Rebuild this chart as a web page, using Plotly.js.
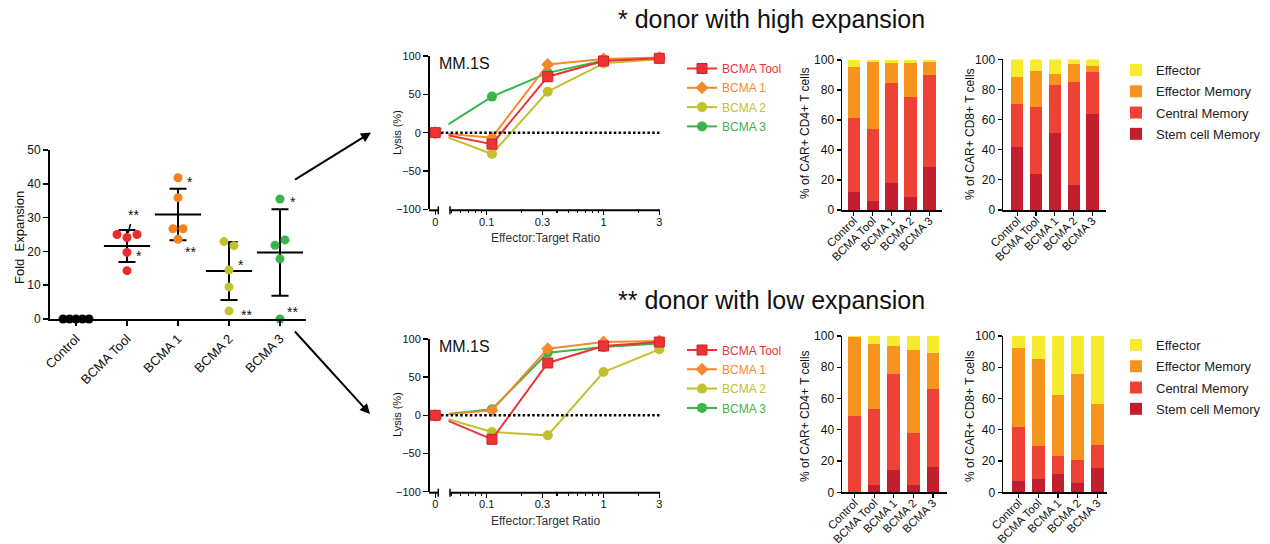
<!DOCTYPE html>
<html><head><meta charset="utf-8">
<script src="https://cdn.plot.ly/plotly-3.0.1.min.js"></script>
<style>html,body{margin:0;padding:0;background:#fff}#chart{width:1270px;height:544px}</style>
</head><body><div id="chart"></div>
<script>
// ---------------- data ----------------
const groups = ['Control', 'BCMA Tool', 'BCMA 1', 'BCMA 2', 'BCMA 3'];

// Fold expansion (one point per donor)
const foldControl = [0, 0, 0, 0, 0];
const foldTool = [25.0, 24.1, 25.0, 19.7, 14.3];
const foldB1 = [41.8, 35.9, 26.7, 26.7, 23.6];
const foldB2 = [22.9, 21.7, 14.5, 9.5, 2.4];
const foldB3 = [35.5, 21.8, 23.4, 17.8, 0.0];
const foldMean = [21.6, 30.9, 14.2, 19.7];   // BCMA Tool .. BCMA 3
const foldSD = [4.7, 7.6, 8.6, 12.8];

// Lysis vs effector:target ratio
const ratios = [0, 0.111, 0.333, 1, 3];
const ratioTicks = [0, 0.1, 0.3, 1, 3];
const ratioTickText = ['0', '0.1', '0.3', '1', '3'];
const ratioMinor = [0.05, 0.06, 0.07, 0.08, 0.09, 0.2, 0.4, 0.5, 0.6, 0.7, 0.8, 0.9, 2];
const lysisHighTool = [0, -15.0, 73.0, 93.5, 97.0];
const lysisHighB1 = [0, -6.5, 89.0, 96.0, 98.0];
const lysisHighB2 = [0, -27.8, 53.5, 90.4, 95.6];
const lysisHighB3 = [0, 47.0, 78.0, 94.0, 97.0];
const lysisLowTool = [0, -31.4, 68.6, 90.8, 96.0];
const lysisLowB1 = [0, 6.5, 87.3, 96.0, 97.4];
const lysisLowB2 = [0, -21.8, -26.2, 56.8, 86.5];
const lysisLowB3 = [0, 7.9, 82.0, 89.5, 94.0];

// T cell subsets (% of CAR+ cells)
const subsets = ['Stem cell Memory', 'Central Memory', 'Effector Memory', 'Effector'];
const cd4HighStem = [12.2, 6.2, 18.0, 8.7, 29.0];
const cd4HighCentral = [49.3, 48.1, 66.6, 66.8, 60.8];
const cd4HighEM = [33.8, 44.4, 13.4, 22.3, 8.6];
const cd4HighEff = [4.7, 1.3, 2.0, 2.2, 1.6];
const cd8HighStem = [42.0, 23.9, 51.1, 16.6, 63.7];
const cd8HighCentral = [28.6, 44.2, 31.9, 68.1, 28.1];
const cd8HighEM = [17.9, 24.2, 7.3, 12.2, 3.8];
const cd8HighEff = [11.5, 7.7, 9.7, 3.1, 4.4];
const cd4LowStem = [0, 4.5, 14.3, 4.5, 16.2];
const cd4LowCentral = [48.8, 49.0, 61.2, 33.2, 49.9];
const cd4LowEM = [50.8, 41.6, 18.1, 53.1, 23.0];
const cd4LowEff = [0.4, 4.9, 6.4, 9.2, 10.9];
const cd8LowStem = [7.5, 8.7, 11.7, 6.0, 15.4];
const cd8LowCentral = [34.5, 21.2, 11.8, 14.7, 15.1];
const cd8LowEM = [50.1, 55.2, 38.5, 55.0, 26.2];
const cd8LowEff = [7.9, 14.9, 38.0, 24.3, 43.3];

// ---------------- styling / layout helpers ----------------
const W = 1270, H = 544;
const px = v => v / W, py = v => 1 - v / H;
const FONT = 'Liberation Sans, Arial, Helvetica, sans-serif';
const groupColors = ['#000000', '#EE2C2C', '#F4821F', '#C4C12E', '#3AB54A'];
const lineColors = ['#EE3338', '#F6892C', '#C2C02E', '#3BB44A'];
const lineSymbols = ['square', 'diamond', 'circle', 'circle'];
const lineNames = ['BCMA Tool', 'BCMA 1', 'BCMA 2', 'BCMA 3'];
const subsetColors = ['#C11F2F', '#EF4237', '#F7941D', '#F6EB2F'];

// scatter panel geometry
const scX = [50, 306], scY = [319, 150], scRangeX = [-0.51, 4.51], scRangeY = [0, 50];
const scXpx = (scX[1] - scX[0]) / (scRangeX[1] - scRangeX[0]);
const scYpx = (scY[0] - scY[1]) / (scRangeY[1] - scRangeY[0]);

// broken log axis for effector:target ratio; 0 is placed left of the break
const ZERO_POS = -1.44;
const ratioPos = r => r === 0 ? ZERO_POS : Math.log10(r);
const lnX = [430, 660], lnRangeX = [-1.485, 0.483];

// simple swarm: spread points that would overlap, centred on the category
function swarm(vals, d, maxSpan) {
  const n = vals.length, offs = new Array(n).fill(0), used = new Array(n).fill(false);
  for (let i = 0; i < n; i++) {
    if (used[i]) continue;
    const cl = [i]; used[i] = true;
    for (let k = 0; k < cl.length; k++) {
      for (let j = 0; j < n; j++) {
        if (!used[j] && Math.abs(vals[j] - vals[cl[k]]) * scYpx < d) { cl.push(j); used[j] = true; }
      }
    }
    cl.sort((a, b) => a - b);
    const m = cl.length;
    if (m > 1) {
      const step = Math.min(d, maxSpan / (m - 1));
      cl.forEach((idx, r) => { offs[idx] = (r - (m - 1) / 2) * step / scXpx; });
    }
  }
  return offs;
}

const traces = [];
const foldSets = [foldControl, foldTool, foldB1, foldB2, foldB3];

// mean +/- SD
traces.push({
  type: 'scatter', mode: 'markers', x: [1, 2, 3, 4], y: foldMean, xaxis: 'x', yaxis: 'y',
  marker: { symbol: 'line-ew-open', size: 33, color: '#000', line: { width: 2, color: '#000' } },
  error_y: { type: 'data', array: foldSD, visible: true, width: 8.5, thickness: 2, color: '#000' },
  cliponaxis: false, showlegend: false, hoverinfo: 'skip'
});
const foldX = [];
foldSets.forEach((vals, i) => {
  const offs = swarm(vals, 10, 26);
  const xs = vals.map((v, k) => i + offs[k]);
  foldX.push(xs);
  traces.push({
    type: 'scatter', mode: 'markers', x: xs, y: vals, xaxis: 'x', yaxis: 'y',
    marker: { size: 9, color: groupColors[i] }, cliponaxis: false, showlegend: false, hoverinfo: 'skip'
  });
});

// line charts (added in reverse so BCMA Tool is drawn on top; legendrank keeps legend order)
const lysisHigh = [lysisHighTool, lysisHighB1, lysisHighB2, lysisHighB3];
const lysisLow = [lysisLowTool, lysisLowB1, lysisLowB2, lysisLowB3];
[[lysisHigh, 'x2', 'y2', 'legend'], [lysisLow, 'x5', 'y5', 'legend2']].forEach(([sets, xa, ya, lg]) => {
  for (let i = 3; i >= 0; i--) {
    traces.push({
      type: 'scatter', mode: 'lines+markers', name: `<span style="color:${lineColors[i]}">${lineNames[i]}</span>`,
      x: ratios.map(ratioPos), y: sets[i], xaxis: xa, yaxis: ya, legend: lg,
      legendgroup: lg + lineNames[i], legendrank: 1000 + i,
      line: { color: lineColors[i], width: 2 },
      marker: { symbol: lineSymbols[i], size: 10, color: lineColors[i],
                line: { width: i === 0 ? 1 : 0, color: '#D42027' } },
      cliponaxis: false, hoverinfo: 'skip'
    });
  }
});

// stacked bars
const barPanels = [
  { xa: 'x3', ya: 'y3', sets: [cd4HighStem, cd4HighCentral, cd4HighEM, cd4HighEff], legend: null },
  { xa: 'x4', ya: 'y4', sets: [cd8HighStem, cd8HighCentral, cd8HighEM, cd8HighEff], legend: 'legend3' },
  { xa: 'x6', ya: 'y6', sets: [cd4LowStem, cd4LowCentral, cd4LowEM, cd4LowEff], legend: null },
  { xa: 'x7', ya: 'y7', sets: [cd8LowStem, cd8LowCentral, cd8LowEM, cd8LowEff], legend: 'legend4' }
];
barPanels.forEach(p => {
  p.sets.forEach((vals, s) => {
    const t = {
      type: 'bar', name: subsets[s], x: groups, y: vals, xaxis: p.xa, yaxis: p.ya,
      marker: { color: subsetColors[s], line: { width: 0 } }, hoverinfo: 'skip',
      showlegend: !!p.legend
    };
    if (p.legend) { t.legend = p.legend; t.legendgroup = p.legend + subsets[s]; t.legendrank = 1000 - s; }
    traces.push(t);
  });
});

// ---------------- axes ----------------
const tickFont = s => ({ family: FONT, size: s, color: '#111' });
const baseAx = { showgrid: false, zeroline: false, ticks: 'outside', tickcolor: '#000', linecolor: '#000', fixedrange: true };

function lineXAxis(anchor) {
  return Object.assign({}, baseAx, {
    domain: [px(lnX[0]), px(lnX[1])], range: lnRangeX, anchor,
    showline: false, tickmode: 'array', tickvals: ratioTicks.map(ratioPos), ticktext: ratioTickText,
    ticklen: 5, tickwidth: 1.5, tickfont: tickFont(11), ticklabelstandoff: -3,
    minor: { tickmode: 'array', tickvals: ratioMinor.map(ratioPos), ticks: 'outside', ticklen: 3, tickwidth: 1.2, tickcolor: '#000' }
  });
}
function lineYAxis(anchor, top, bot) {
  return Object.assign({}, baseAx, {
    domain: [py(bot), py(top)], range: [-100, 100], anchor, showline: true, linewidth: 2,
    tickmode: 'array', tickvals: [-100, -50, 0, 50, 100], ticklen: 5, tickwidth: 1.5, tickfont: tickFont(11)
  });
}
function barXAxis(anchor, x0, x1, range) {
  return Object.assign({}, baseAx, {
    domain: [px(x0), px(x1)], range, anchor, type: 'category', showline: true, linewidth: 1.5,
    ticklen: 4, tickwidth: 1.2, tickangle: -45, tickfont: tickFont(11.5), ticklabelstandoff: -6
  });
}
function barYAxis(anchor, top, bot) {
  return Object.assign({}, baseAx, {
    domain: [py(bot), py(top)], range: [0, 100], anchor, showline: true, linewidth: 1.5,
    dtick: 20, ticklen: 4, tickwidth: 1.2, tickfont: tickFont(12)
  });
}
const legendBase = (x, y, size, color, gap) => ({
  x: px(x), y: py(y), xanchor: 'left', yanchor: 'top', traceorder: 'grouped', tracegroupgap: gap,
  font: { family: FONT, size, color }, bgcolor: 'rgba(0,0,0,0)'
});

const layout = {
  width: W, height: H, margin: { l: 0, r: 0, t: 0, b: 0 },
  paper_bgcolor: '#fff', plot_bgcolor: 'rgba(0,0,0,0)',
  font: { family: FONT, color: '#111' },
  barmode: 'stack', bargap: 0.35, showlegend: true,
  xaxis: Object.assign({}, baseAx, {
    domain: [px(scX[0]), px(scX[1])], range: scRangeX, anchor: 'y', showline: true, linewidth: 2,
    tickmode: 'array', tickvals: [0, 1, 2, 3, 4], ticktext: groups, tickangle: -45,
    ticklen: 5, tickwidth: 1.5, tickfont: tickFont(13)
  }),
  yaxis: Object.assign({}, baseAx, {
    domain: [py(scY[0]), py(scY[1])], range: scRangeY, anchor: 'x', showline: true, linewidth: 2,
    dtick: 10, ticklen: 5, tickwidth: 1.5, tickfont: tickFont(12)
  }),
  xaxis2: lineXAxis('y2'),
  yaxis2: lineYAxis('x2', 56, 209.3),
  xaxis5: lineXAxis('y5'),
  yaxis5: lineYAxis('x5', 339, 491.7),
  xaxis3: barXAxis('y3', 842, 942, [-0.62, 4.66]),
  yaxis3: barYAxis('x3', 60, 210),
  xaxis4: barXAxis('y4', 1003, 1106, [-0.76, 4.72]),
  yaxis4: barYAxis('x4', 59.4, 210),
  xaxis6: barXAxis('y6', 842, 947, [-0.64, 4.72]),
  yaxis6: barYAxis('x6', 336, 492.3),
  xaxis7: barXAxis('y7', 1003, 1107, [-0.79, 4.49]),
  yaxis7: barYAxis('x7', 336, 492.3),
  legend: legendBase(682, 54, 12, '#111', 0.3),
  legend2: legendBase(682, 335.5, 12, '#111', 0.3),
  legend3: legendBase(1116, 55, 13, '#222', 1.4),
  legend4: legendBase(1116, 330, 13, '#222', 1.4),
  shapes: [], annotations: []
};

// broken x axis decorations for the two lysis panels
function breakDecor(ya, top, bot) {
  const P = (x0, y0, x1, y1, w) => ({ type: 'line', xref: 'paper', yref: 'paper', x0: px(x0), y0: py(y0), x1: px(x1), y1: py(y1),
                                       line: { color: '#000', width: w }, layer: 'above' });
  layout.shapes.push(
    { type: 'rect', xref: 'paper', yref: 'paper', x0: px(441.5), x1: px(448.5), y0: py(bot - 3), y1: py(top - 8),
      fillcolor: '#fff', line: { width: 0 }, layer: 'above' },
    P(429, bot + 1, 438.3, bot + 1, 2),
    P(438.3, bot - 3, 438.3, bot + 5, 1.5),
    P(450, bot + 1, 660, bot + 1, 2),
    P(450, bot - 3, 450, bot + 5, 1.5),
    { type: 'line', xref: 'paper', yref: ya, x0: px(441), x1: px(660), y0: 0, y1: 0,
      line: { color: '#000', width: 2.5, dash: '2.5px,2.3px' }, layer: 'above' }
  );
}
breakDecor('y2', 56, 209.3);
breakDecor('y5', 339, 491.7);

// ---------------- annotations ----------------
const A = layout.annotations;
const txt = (text, x, y, size, opts) => A.push(Object.assign({
  text, xref: 'paper', yref: 'paper', x: px(x), y: py(y), showarrow: false,
  xanchor: 'center', yanchor: 'middle',
  font: { family: FONT, size, color: '#111' }
}, opts || {}));
txt('* donor with high expansion', 771.5, 19, 25);
txt('** donor with low expansion', 771.5, 300, 25);
txt('Fold  Expansion', 19, 238, 13, { textangle: -90 });
txt('Lysis (%)', 397, 133, 11, { textangle: -90 });
txt('Lysis (%)', 397, 415, 11, { textangle: -90 });
txt('Effector:Target Ratio', 545, 238, 12, { font: { family: FONT, size: 12, color: '#333' } });
txt('Effector:Target Ratio', 545, 521, 12, { font: { family: FONT, size: 12, color: '#333' } });
txt('MM.1S', 436.5, 63.5, 16, { xanchor: 'left' });
txt('MM.1S', 436.5, 346, 16, { xanchor: 'left' });
txt('% of CAR+ CD4+ T cells', 805, 133, 12, { textangle: -90 });
txt('% of CAR+ CD8+ T cells', 970, 134, 12, { textangle: -90 });
txt('% of CAR+ CD4+ T cells', 805, 416, 12, { textangle: -90 });
txt('% of CAR+ CD8+ T cells', 970, 416, 12, { textangle: -90 });

// asterisks marking the high (*) and low (**) expansion donors
const stars = [
  { g: 1, k: 1, t: '**', arrow: true },
  { g: 1, k: 3, t: '*', dx: 7, dy: -4 },
  { g: 2, k: 0, t: '*', dx: 7, dy: -4 },
  { g: 2, k: 4, t: '**', dx: 4.5, dy: -13 },
  { g: 3, k: 2, t: '*', dx: 6.5, dy: 5 },
  { g: 3, k: 4, t: '**', dx: 10, dy: -4 },
  { g: 4, k: 0, t: '*', dx: 8, dy: -3 },
  { g: 4, k: 4, t: '**', dx: 5, dy: 7 }
];
stars.forEach(s => {
  const base = { text: s.t, xref: 'x', yref: 'y', x: foldX[s.g][s.k], y: foldSets[s.g][s.k],
                 font: { family: FONT, size: 14, color: '#111' } };
  if (s.arrow) {
    A.push(Object.assign(base, { showarrow: true, ax: 6, ay: -23, arrowhead: 0, arrowwidth: 1.5,
                                 arrowcolor: '#000', standoff: 5 }));
  } else {
    A.push(Object.assign(base, { showarrow: false, xanchor: 'left', yanchor: 'middle', xshift: s.dx, yshift: s.dy }));
  }
});

// arrows from the scatter panel to the lysis panels
A.push({ text: '', xref: 'paper', yref: 'paper', x: px(371), y: py(132.5), ax: -77.5, ay: 48,
         showarrow: true, arrowhead: 2, arrowsize: 1, arrowwidth: 2, arrowcolor: '#000' });
A.push({ text: '', xref: 'paper', yref: 'paper', x: px(370), y: py(414), ax: -76.5, ay: -84,
         showarrow: true, arrowhead: 2, arrowsize: 1, arrowwidth: 2, arrowcolor: '#000' });

Plotly.newPlot('chart', traces, layout, { displayModeBar: false, staticPlot: true });
</script>
</body></html>
